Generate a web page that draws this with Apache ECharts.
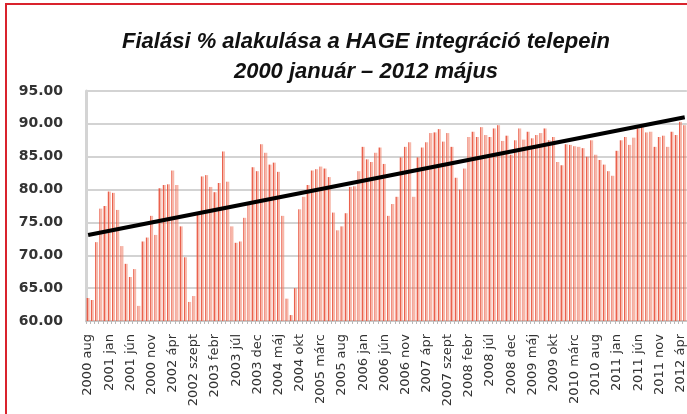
<!DOCTYPE html>
<html>
<head>
<meta charset="utf-8">
<script src="https://cdn.jsdelivr.net/npm/echarts@6/dist/echarts.min.js"></script>
<style>
  html, body { margin: 0; padding: 0; background: #fff; }
  #chart { width: 687px; height: 414px; }
</style>
</head>
<body>
<div id="chart"></div>
<script>
// havi fialási % 2000 aug - 2012 máj (leolvasva)
var values = [
  63.5, 63.2, 72.0, 77.1, 77.5, 79.7, 79.5, 76.9, 71.4, 68.7,
  66.7, 67.9, 62.3, 72.1, 72.7, 76.0, 73.1, 80.2, 80.7, 80.8,
  82.9, 80.7, 74.4, 69.7, 62.9, 63.8, 76.2, 82.0, 82.2, 80.4,
  79.6, 81.0, 85.8, 81.2, 74.4, 71.9, 72.1, 75.7, 78.0, 83.4,
  82.8, 86.9, 85.6, 83.8, 84.1, 82.7, 76.0, 63.4, 60.9, 65.0,
  77.0, 78.9, 80.7, 82.9, 83.1, 83.5, 83.2, 81.9, 76.5, 73.8,
  74.4, 76.4, 80.4, 80.5, 82.8, 86.5, 84.6, 84.2, 85.6, 86.4,
  83.9, 76.0, 77.8, 78.9, 84.9, 86.5, 87.2, 78.9, 84.9, 86.4,
  87.2, 88.6, 88.7, 89.2, 87.3, 88.6, 86.5, 81.8, 80.0, 83.2,
  88.0, 88.8, 88.0, 89.5, 88.3, 88.0, 89.3, 89.8, 87.4, 88.2,
  85.3, 87.5, 89.3, 87.6, 88.8, 87.8, 88.3, 88.6, 89.3, 87.5,
  88.0, 84.2, 83.7, 86.9, 86.8, 86.6, 86.5, 86.3, 85.0, 87.5,
  85.3, 84.5, 83.8, 82.8, 82.1, 85.9, 87.5, 88.0, 86.8, 87.9,
  89.3, 89.9, 88.7, 88.8, 86.5, 88.0, 88.2, 86.5, 88.8, 88.3,
  90.3, 89.8
];

// tengelyfeliratok (minden 5. hónap, ahogy a képen)
var tickLabels = [
  '2000 aug', '2001 jan', '2001 jún', '2000 nov', '2002 ápr', '2002 szept',
  '2003 febr', '2003 júl', '2003 dec', '2004 máj', '2004 okt', '2005 márc',
  '2005 aug', '2006 jan', '2006 jún', '2006 nov', '2007 ápr', '2007 szept',
  '2008 febr', '2008 júl', '2008 dec', '2009 máj', '2009 okt', '2010 márc',
  '2010 aug', '2011 jan', '2011 jún', '2011 nov', '2012 ápr'
];

// lineáris trend végpontjai
var trendStart = 73.1;
var trendEnd = 91.0;

var months = ['jan', 'febr', 'márc', 'ápr', 'máj', 'jún', 'júl', 'aug', 'szept', 'okt', 'nov', 'dec'];
var categories = [];
for (var i = 0; i < values.length; i++) {
  var m = 7 + i;
  categories.push((2000 + Math.floor(m / 12)) + ' ' + months[m % 12]);
}

var trend = values.map(function () { return null; });
trend[0] = trendStart;
trend[trend.length - 1] = trendEnd;

var chart = echarts.init(document.getElementById('chart'));
chart.setOption({
  animation: false,
  backgroundColor: '#fff',
  title: {
    text: 'Fialási % alakulása a HAGE integráció telepein\n2000 január – 2012 május',
    left: 361,
    top: 22,
    textAlign: 'center',
    textStyle: {
      fontFamily: 'Liberation Sans, sans-serif',
      fontStyle: 'italic',
      fontWeight: 'bold',
      fontSize: 22,
      lineHeight: 30,
      color: '#111'
    }
  },
  graphic: [{
    type: 'rect',
    shape: { x: 6, y: 4, width: 700, height: 430 },
    style: { fill: 'none', stroke: '#d9232d', lineWidth: 2 },
    silent: true
  }],
  grid: { left: 86, right: -1, top: 91, bottom: 93 },
  xAxis: {
    type: 'category',
    data: categories,
    boundaryGap: true,
    axisLine: { lineStyle: { color: '#c8c8c8', width: 2 } },
    axisTick: { show: true, interval: 0, length: 3, lineStyle: { color: '#b8b8b8' } },
    axisLabel: {
      interval: 4,
      rotate: 90,
      margin: 13,
      fontFamily: 'DejaVu Sans, sans-serif',
      fontSize: 13,
      color: '#333',
      formatter: function (v, idx) { return tickLabels[Math.round(idx / 5)]; }
    }
  },
  yAxis: {
    type: 'value',
    min: 60,
    max: 95,
    interval: 5,
    axisLine: { show: true, lineStyle: { color: '#d4d4d4', width: 3 } },
    axisTick: { show: false },
    splitLine: { lineStyle: { color: '#c4c4c4', width: 1.5 } },
    axisLabel: {
      margin: 23,
      fontFamily: 'DejaVu Sans, sans-serif',
      fontWeight: 'bold',
      fontSize: 14,
      color: '#333',
      formatter: function (v) { return v.toFixed(2); }
    }
  },
  series: [{
    type: 'bar',
    data: values,
    barWidth: 3,
    itemStyle: {
      color: new echarts.graphic.LinearGradient(0, 0, 1, 0, [
        { offset: 0, color: 'rgba(232,80,58,0.9)' },
        { offset: 0.33, color: 'rgba(232,80,58,0.9)' },
        { offset: 0.34, color: 'rgba(240,125,100,0.55)' },
        { offset: 1, color: 'rgba(240,125,100,0.55)' }
      ])
    }
  }, {
    type: 'line',
    data: trend,
    connectNulls: true,
    symbol: 'none',
    z: 5,
    lineStyle: { color: '#000', width: 4 }
  }]
});
</script>
</body>
</html>
